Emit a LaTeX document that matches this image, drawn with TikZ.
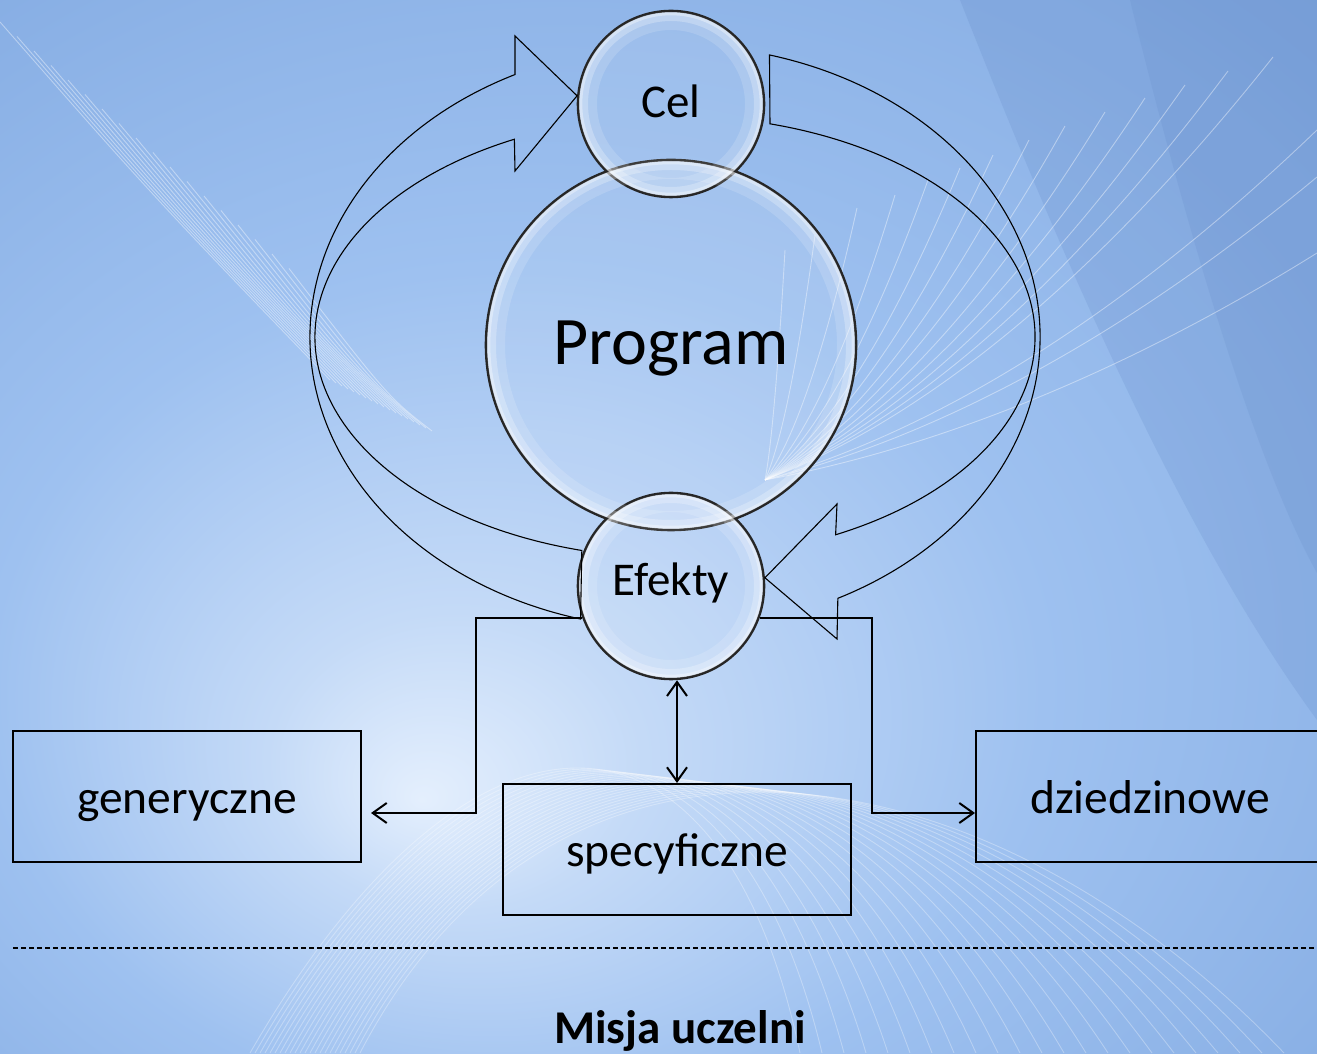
\documentclass[tikz,border=0pt]{standalone}
\usepackage{fontspec}
\setmainfont{Carlito}
\usepackage{tikz}
\usetikzlibrary{arrows.meta}

\definecolor{bglight}{HTML}{E4EFFD}
\definecolor{bgmid}{HTML}{9EC1F0}
\definecolor{bgdark}{HTML}{80A8E0}
\definecolor{bgdeep}{HTML}{5A80C0}

\pgfdeclareradialshading{bgshade}{\pgfpoint{-9bp}{-13bp}}{color(0bp)=(bglight); color(7bp)=(bglight!55!bgmid); color(20bp)=(bgmid); color(42bp)=(bgdark); color(50bp)=(bgdark)}

\begin{document}
\begin{tikzpicture}[x=1pt,y=1pt,
  >={Straight Barb[length=14pt,width=20pt]},
  bubble/.style={circle,draw=black!85,line width=2.6pt,inner sep=0pt,
    fill=white,fill opacity=0.1,text opacity=1},
  effbox/.style={draw,rectangle,line width=2pt,minimum width=348pt,minimum height=131pt,
    text height=42pt,text depth=9pt,font=\fontsize{47.5}{56}\selectfont},
  band/.style={draw=black,line width=1.1pt},
  link/.style={line width=2pt,->},
  sweep/.style={white,opacity=0.4,line width=0.9pt}]
\useasboundingbox (0,0) rectangle (1317,1053);

% background
\shade[shading=bgshade] (0,0) rectangle (1317,1053);
\fill[bgdeep,opacity=0.18] (960,1053) .. controls (1060,800) and (1180,520) .. (1317,333) -- (1317,1053) -- cycle;
\fill[bgdeep,opacity=0.15] (1130,1053) .. controls (1180,850) and (1250,600) .. (1317,480) -- (1317,1053) -- cycle;
\foreach \i in {0,...,17}
  \draw[sweep] (\i*17,1031-\i*14.5) .. controls (150+\i*14,860-\i*12) .. (330+\i*6,673-\i*3);
\foreach \ex/\ey in {785/803,815/818,857/845,895/858,928/873,960/885,993/898,1029/913,1065/927,1105/941,1145/955,1185/968,1228/982,1273/996,1317/923,1317/876,1317/800}{
  \pgfmathsetmacro\ax{765+0.33*(\ex-765)}
  \pgfmathsetmacro\ay{573+0.15*(\ey-573)}
  \pgfmathsetmacro\bx{765+0.67*(\ex-765)}
  \pgfmathsetmacro\by{573+0.5*(\ey-573)}
  \draw[sweep] (765,573) .. controls (\ax,\ay) and (\bx,\by) .. (\ex,\ey);
}
\foreach \i in {0,...,22}
  \draw[sweep,opacity=0.3] (250+\i*5,0) .. controls (470+\i*4,380) and (720+\i*12,380-\i*3) .. (800+\i*22,0);

% nodes
\node [bubble,minimum size=370pt,text height=54pt,text depth=14pt,font=\fontsize{68}{80}\selectfont] (prog) at (671,708) {Program};
\node [bubble,minimum size=186pt,text height=36pt,text depth=8pt,font=\fontsize{47}{56}\selectfont] (cel) at (671,949) {Cel};
\node [bubble,minimum size=186pt,text height=36pt,text depth=16pt,font=\fontsize{47}{56}\selectfont] (efekty) at (671,467) {Efekty};
% glass rim
\foreach \n/\r in {prog/185,cel/93,efekty/93}{
  \draw[white,opacity=0.15,line width=18pt] (\n.center) circle[radius=\r-10];
  \draw[white,opacity=0.25,line width=9pt] (\n.center) circle[radius=\r-5.5];
  \draw[white,opacity=0.35,line width=3pt] (\n.center) circle[radius=\r-2.8];
}

\node [effbox] (gen) at (187,256.5) {generyczne};
\node [effbox] (spec) at (677,203.5) {specyficzne};
\node [effbox] (dzi) at (1150,256.5) {dziedzinowe};

% loops
\coordinate (rot) at (675,716);
\draw[band] (cel.175) -- (515,1017) -- ([shift={(116:365 and 292)}]rot)
  arc[start angle=116,end angle=255,x radius=365,y radius=292]
  -- ([shift={(255:360 and 221)}]rot)
  arc[start angle=255,end angle=116.5,x radius=360,y radius=221] -- (515,882) -- cycle;
\draw[band] ([shift={(75:365 and 292)}]rot)
  arc[start angle=75,end angle=-63.5,x radius=365,y radius=292]
  -- (837,414) -- (efekty.5) -- (837,549) -- ([shift={(-63.5:360 and 221)}]rot)
  arc[start angle=-63.5,end angle=74.7,x radius=360,y radius=221] -- cycle;

\draw[link,shorten >=9pt] (efekty.200) -- ++(-106,0) |- ([yshift=-16.5pt]gen.east);
\draw[link] (efekty.-20) -- ++(112,0) |- ([yshift=-16.5pt]dzi.west);
\draw[link,<->] (efekty.south -| spec.north) -- (spec.north);

\draw[line width=1.6pt,dash pattern=on 5pt off 3pt] (13,105) -- (1317,105);
\node [anchor=base,font=\bfseries\fontsize{47}{56}\selectfont] (misja) at (680,10) {Misja uczelni};
\end{tikzpicture}
\end{document}
